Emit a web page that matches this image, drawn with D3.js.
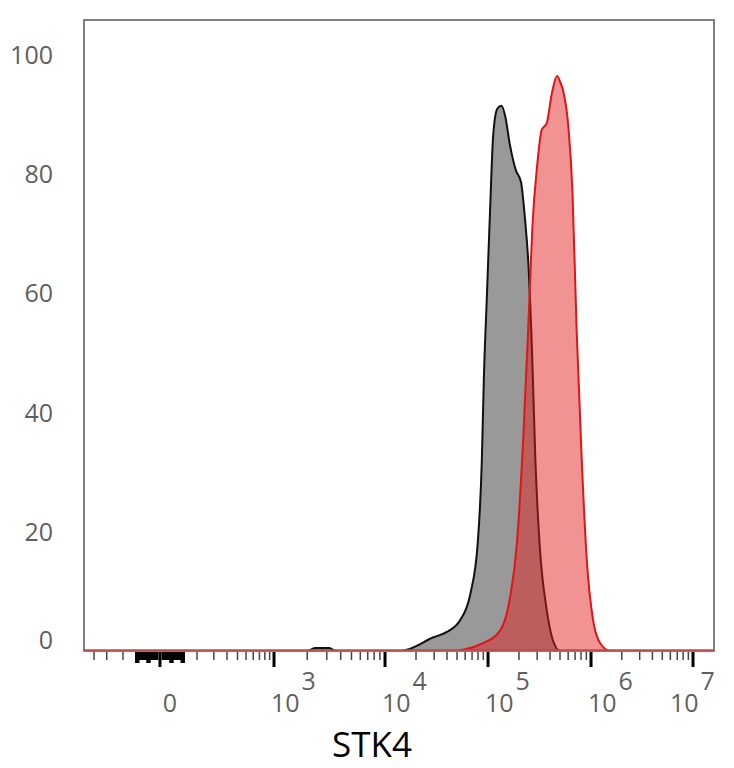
<!DOCTYPE html>
<html lang="en">
<head>
    <meta charset="UTF-8">
    <title>STK4 histogram</title>
    <script src="https://d3js.org/d3.v7.min.js"></script>
    <style>
        body {
            margin: 0;
            background: #fff;
            overflow: hidden;
        }
        .tick-label {
            font: 25px "Open Sans", sans-serif;
            fill: #5f5f5f;
        }
        .axis-title {
            font: 35px "Open Sans", sans-serif;
            fill: #000;
        }
    </style>
</head>
<body>
    <script>
        // histogram values (x in log10 of intensity, y in % of max)
        const controlLog = [3.30, 3.37, 3.50, 3.56, 4.15, 4.21, 4.47, 4.60, 4.73, 4.83, 4.90, 4.94, 4.96,
            4.99, 5.02, 5.05, 5.09, 5.13, 5.17, 5.21, 5.27, 5.32, 5.36, 5.39, 5.43, 5.46, 5.50, 5.57, 5.63, 5.70];
        const controlPct = [0, 0.5, 0.5, 0, 0, 0.2, 2.3, 3.2, 5.2, 9.7, 18.1, 32, 46,
            60, 74, 86.5, 91, 91.5, 89.5, 85.2, 80.7, 78.7, 72.3, 65.6, 48.8, 32, 18.1, 6.9, 1.8, 0];

        const stk4Log = [4.63, 4.95, 5.12, 5.21, 5.28, 5.34, 5.39, 5.43, 5.48, 5.52, 5.57, 5.62, 5.67,
            5.70, 5.73, 5.78, 5.82, 5.86, 5.91, 5.96, 6.02, 6.09, 6.19];
        const stk4Pct = [0, 1.3, 3.5, 8.6, 18, 35, 54, 71, 82, 87.4, 88.6, 93.6, 96.5,
            95.5, 94, 88, 77, 54, 32, 15, 5.2, 1.3, 0];

        const yTicks = [0, 20, 40, 60, 80, 100];
        const majorTicks = [0, 1e3, 1e4, 1e5, 1e6, 1e7];
        const majorLabels = ["0", "3", "4", "5", "6", "7"];
        const axisTitle = "STK4";

        // breakpoints of the logicle-like display, as fraction of the plot width
        const xBreaks = [-300, -100, 0, 100, 1e3, 1e4, 1e5, 1e6, 1e7];
        const xBreakFrac = [0.0159, 0.0619, 0.1206, 0.1794, 0.3016, 0.4778, 0.6413, 0.8048, 0.9667];

        const width = 734;
        const height = 768;
        const margin = {top: 20, right: 20, bottom: 117, left: 84};
        const W = width - margin.left - margin.right;
        const H = height - margin.top - margin.bottom;

        const asinhW = 200;
        const tf = v => Math.asinh(v / asinhW);
        const tfInv = t => Math.sinh(t) * asinhW;

        const xT = d3.scaleLinear()
            .domain(xBreaks.map(tf))
            .range(xBreakFrac.map(f => f * W));
        const x = v => xT(tf(v));
        const xMin = tfInv(xT.invert(0));
        const xMax = tfInv(xT.invert(W));

        const y = d3.scaleLinear()
            .domain([0, 105.9])
            .range([H, 0]);

        const svg = d3.select("body").append("svg")
            .attr("width", width)
            .attr("height", height);

        const g = svg.append("g")
            .attr("transform", `translate(${margin.left},${margin.top})`);

        function series(logs, pcts) {
            const pts = logs.map((l, i) => ({v: Math.pow(10, l), p: pcts[i]}));
            return [{v: xMin, p: 0}].concat(pts, [{v: xMax, p: 0}]);
        }

        const area = d3.area()
            .x(d => x(d.v))
            .y0(y(0))
            .y1(d => y(d.p))
            .curve(d3.curveMonotoneX);

        const line = d3.line()
            .x(d => x(d.v))
            .y(d => y(d.p))
            .curve(d3.curveMonotoneX);

        const control = series(controlLog, controlPct);
        const stk4 = series(stk4Log, stk4Pct);

        g.append("path")
            .datum(control)
            .attr("d", area)
            .attr("fill", "#999");
        g.append("path")
            .datum(control)
            .attr("d", line)
            .attr("fill", "none")
            .attr("stroke", "#111")
            .attr("stroke-width", 2);

        g.append("path")
            .datum(stk4)
            .attr("d", area)
            .attr("fill", "rgba(228,30,30,0.48)");
        g.append("path")
            .datum(stk4)
            .attr("d", line)
            .attr("fill", "none")
            .attr("stroke", "#e01515")
            .attr("stroke-width", 2);

        // frame
        g.append("rect")
            .attr("x", 0)
            .attr("y", 0)
            .attr("width", W)
            .attr("height", H)
            .attr("fill", "none")
            .attr("stroke", "#808080")
            .attr("stroke-width", 2);

        // red baseline sits over the frame bottom
        g.append("line")
            .attr("x1", 0)
            .attr("x2", W)
            .attr("y1", y(0) - 1)
            .attr("y2", y(0) - 1)
            .attr("stroke", "#d04040")
            .attr("stroke-width", 1.5);

        // minor ticks
        const minorTicks = [];
        d3.range(10, 70, 10).forEach(v => { minorTicks.push(v, -v); });
        [100, 200, 300].forEach(v => minorTicks.push(-v));
        d3.range(100, 1000, 100).forEach(v => minorTicks.push(v));
        [1e3, 1e4, 1e5, 1e6].forEach(d => {
            d3.range(2, 10).forEach(k => minorTicks.push(k * d));
        });

        g.append("g")
            .selectAll("line")
            .data(minorTicks)
            .join("line")
            .attr("x1", d => x(d))
            .attr("x2", d => x(d))
            .attr("y1", H + 1)
            .attr("y2", d => Math.abs(d) < 100 && Math.abs(d) % 30 === 0 ? H + 12 : H + 9)
            .attr("stroke", d => Math.abs(d) < 100 ? "#000" : "#444")
            .attr("stroke-width", d => Math.abs(d) < 100 ? 4.5 : 1.5);

        g.append("g")
            .selectAll("line")
            .data(majorTicks)
            .join("line")
            .attr("x1", d => x(d))
            .attr("x2", d => x(d))
            .attr("y1", H + 1)
            .attr("y2", H + 16)
            .attr("stroke", "#000")
            .attr("stroke-width", 3);

        // x tick labels
        const xl = g.append("g");
        majorTicks.forEach((t, i) => {
            if (t === 0) {
                xl.append("text")
                    .attr("class", "tick-label")
                    .attr("x", x(t) + 10)
                    .attr("y", H + 61)
                    .attr("text-anchor", "middle")
                    .text(majorLabels[i]);
            } else {
                const tx = Math.min(x(t) - 3, W - 44);
                const txt = xl.append("text")
                    .attr("class", "tick-label")
                    .attr("x", tx)
                    .attr("y", H + 61);
                txt.append("tspan").text("10");
                txt.append("tspan")
                    .attr("dy", -22)
                    .attr("dx", 2)
                    .text(majorLabels[i]);
            }
        });

        // y tick labels
        g.append("g")
            .selectAll("text")
            .data(yTicks)
            .join("text")
            .attr("class", "tick-label")
            .attr("x", -31)
            .attr("y", d => Math.min(y(d), H - 11))
            .attr("dy", "0.36em")
            .attr("text-anchor", "end")
            .text(d => d);

        g.append("text")
            .attr("class", "axis-title")
            .attr("x", x(1e4) - 13)
            .attr("y", H + 106)
            .attr("text-anchor", "middle")
            .text(axisTitle);
    </script>
</body>
</html>
